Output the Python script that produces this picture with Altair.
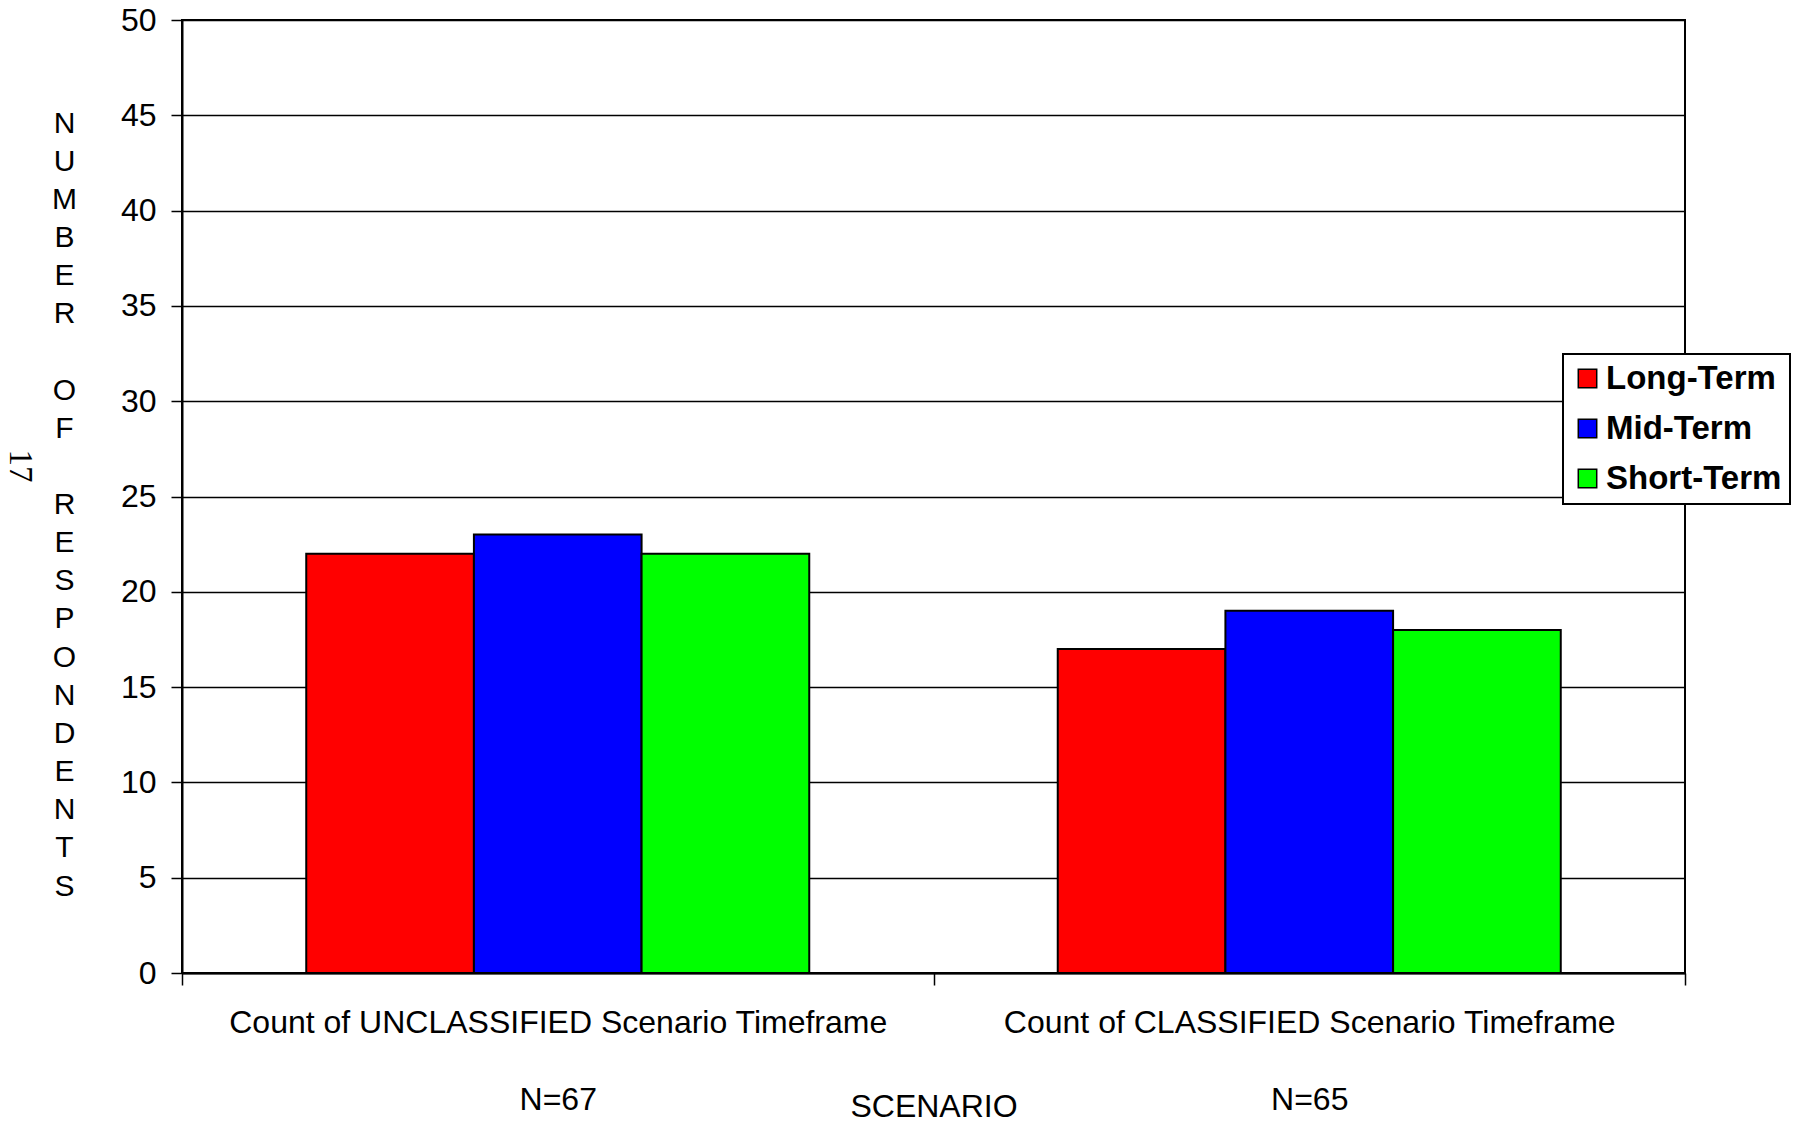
import altair as alt
import pandas as pd

scenarios = ["Count of UNCLASSIFIED Scenario Timeframe", "Count of CLASSIFIED Scenario Timeframe"]
sample_sizes = ["N=67", "N=65"]
terms = ["Long-Term", "Mid-Term", "Short-Term"]
unclassified_counts = [22, 23, 22]
classified_counts = [17, 19, 18]
term_colors = ["#FF0000", "#0000FF", "#00FF00"]
y_ticks = [0, 5, 10, 15, 20, 25, 30, 35, 40, 45, 50]
BL = "\u2800"  # blank (non-trimmed) line
y_title_lines = ["N", "U", "M", "B", "E", "R", BL, "O", "F", BL,
                 "R", "E", "S", "P", "O", "N", "D", "E", "N", "T", "S"]
x_title = "SCENARIO"
page_number = "17"

rows = []
scen_keys = []
for s, n, vals in zip(scenarios, sample_sizes, [unclassified_counts, classified_counts]):
    key = s + "|" + BL + "|" + n
    scen_keys.append(key)
    for t, v in zip(terms, vals):
        rows.append({"scenario": key, "term": t, "count": v})
df = pd.DataFrame(rows)

FONT = "Liberation Sans"

bars = alt.Chart(df).mark_bar(stroke="black", strokeWidth=2).encode(
    x=alt.X(
        "scenario:N",
        sort=scen_keys,
        scale=alt.Scale(paddingInner=0, paddingOuter=0),
        axis=alt.Axis(
            title=x_title, labelAngle=0, labelExpr="split(datum.label, '|')",
            labelLineHeight=38.75, tickBand="extent", tickSize=12, labelPadding=22,
            grid=False, labelLimit=2000, labelFontSize=32, titleFontSize=32,
            titleFontWeight="normal", titleY=133, titleBaseline="middle",
            labelOverlap=False,
        ),
    ),
    xOffset=alt.XOffset("term:N", sort=terms,
                        scale=alt.Scale(paddingInner=0, paddingOuter=0.741)),
    y=alt.Y(
        "count:Q",
        scale=alt.Scale(domain=[0, 50]),
        axis=alt.Axis(
            values=y_ticks, title=y_title_lines, titleAngle=0, titleX=-118,
            titleY=103, titleAlign="center", titleBaseline="middle",
            titleLineHeight=38.15, titleFontSize=30, titleFontWeight="normal",
            labelFontSize=32, tickSize=11, labelPadding=15, grid=True,
        ),
    ),
    color=alt.Color(
        "term:N", sort=terms,
        scale=alt.Scale(domain=terms, range=term_colors),
        legend=alt.Legend(
            title=None, orient="none", legendX=1381, legendY=334,
            strokeColor="black", fillColor="white", padding=8,
            labelFontSize=33, labelFontWeight="bold", labelFont=FONT,
            labelLimit=500, symbolType="square", symbolSize=340,
            symbolStrokeColor="black", symbolStrokeWidth=1.5,
            rowPadding=16, labelOffset=2,
        ),
    ),
)

page = alt.Chart(pd.DataFrame({"t": [page_number]})).mark_text(
    angle=90, font="Liberation Serif", fontSize=33, align="center",
    baseline="middle", color="black",
).encode(text="t:N", x=alt.value(-162), y=alt.value(446))

chart = alt.layer(bars, page).properties(
    width=1503, height=953,
    autosize=alt.AutoSizeParams(type="none"),
    padding={"left": 174, "top": 12, "right": 112, "bottom": 146},
    background="white",
).configure_view(
    stroke="black", strokeWidth=2,
).configure_axis(
    labelFont=FONT, titleFont=FONT, labelColor="black", titleColor="black",
    domainColor="black", domainWidth=2, tickColor="black", tickWidth=1.5,
    gridColor="black", gridWidth=1.5, gridOpacity=1,
).configure_legend(
    strokeWidth=2,
)

chart.save("out.html", embed_options={"renderer": "svg", "actions": False})
